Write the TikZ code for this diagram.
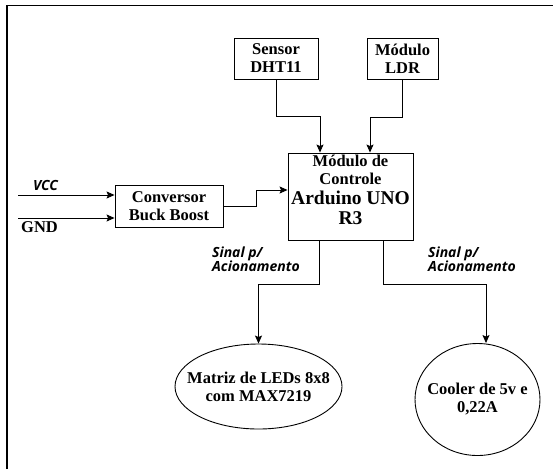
\documentclass[tikz,border=0pt]{standalone}
\usepackage{fontspec}
\setmainfont{Liberation Serif}
\newfontfamily\sinalfont{Open Sans}
\usetikzlibrary{arrows.meta,shapes.geometric}
\tikzset{
  bloco/.style={draw,line width=0.9pt,align=center,font=\bfseries\fontsize{16.5}{18}\selectfont,inner sep=0pt},
  saida/.style={bloco,ellipse,inner xsep=-30pt},
  seta/.style={-{Stealth[length=8pt,width=7pt,inset=1.5pt]},line width=0.9pt},
  sinal/.style={align=left,font=\sinalfont\bfseries\itshape\fontsize{14}{14}\selectfont,inner sep=0pt},
}
\begin{document}
\begin{tikzpicture}[x=1pt,y=-1pt]
\useasboundingbox (0,0) rectangle (553,469);
\draw[line width=1.6pt] (7,469) -- (7,5.5) -- (553,5.5);
\node[bloco,minimum width=84,minimum height=41] (sensor) at (276,58.5) {Sensor\\DHT11};
\node[bloco,minimum width=71,minimum height=41] (ldr) at (402.5,58.5) {Módulo\\LDR};
\node[bloco,minimum width=125,minimum height=87,text depth=14pt] (main) at (350.5,196.5) {Módulo de\\Controle\\[2pt]{\fontsize{19.5}{20}\selectfont Arduino UNO}\\[2pt]{\fontsize{19.5}{20}\selectfont R3}};
\node[bloco,minimum width=108,minimum height=42] (conv) at (169,206) {Conversor\\Buck Boost};
\node[saida,minimum width=167,minimum height=85] (leds) at (258.5,386.5) {Matriz de LEDs 8x8\\com MAX7219};
\node[saida,minimum width=125,minimum height=112] (cooler) at (477.5,399.5) {Cooler de 5v e\\0,22A};
\coordinate (vccin) at (18,195);
\coordinate (gndin) at (18,218);
\node[sinal] (vcc) at (45.5,185) {VCC};
\node[font=\bfseries\fontsize{16.5}{18}\selectfont,inner sep=0pt] (gnd) at (39.5,227) {GND};
\node[sinal,anchor=west] (sinal1) at (212,259) {Sinal p/\\Acionamento};
\node[sinal,anchor=west] (sinal2) at (428,259) {Sinal p/\\Acionamento};
\draw[seta] (sensor.south) -- ++(0,37) -| ([xshift=-30.5pt]main.north);
\draw[seta] (ldr.south) -- ++(0,38) -| ([xshift=19.5pt]main.north);
\draw[seta] (vccin) -- ([yshift=11pt]conv.west);
\draw[seta] (gndin) -- ([yshift=-12pt]conv.west);
\draw[seta] (conv.east) -- ++(33,0) |- ([yshift=6.5pt]main.west);
\draw[seta] ([xshift=-31.5pt]main.south) -- ++(0,44) -| (leds.north);
\draw[seta] ([xshift=32.5pt]main.south) -- ++(0,44) -| ([xshift=8.5pt]cooler.north);
\end{tikzpicture}
\end{document}
